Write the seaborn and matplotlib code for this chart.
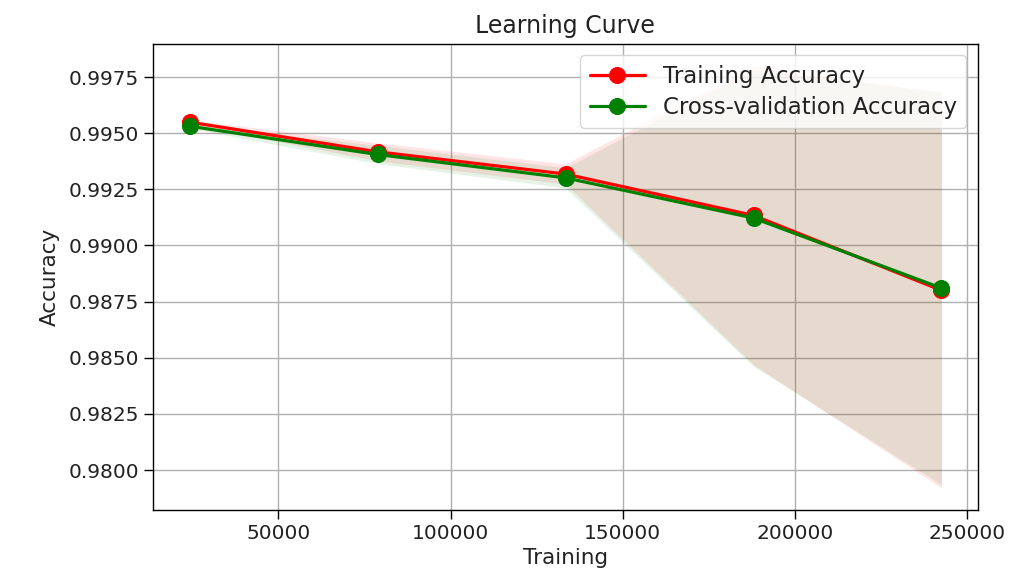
import numpy as np
import pandas as pd
import matplotlib
matplotlib.use("Agg")
import matplotlib.pyplot as plt
import seaborn as sns

train_sizes = [24250, 78812, 133375, 187937, 242500]
train_mean = [0.99549, 0.99417, 0.99318, 0.99134, 0.98800]
train_std = [0.00010, 0.00040, 0.00045, 0.00665, 0.00880]
cv_mean = [0.99531, 0.99405, 0.99301, 0.99122, 0.98810]
cv_std = [0.00010, 0.00040, 0.00045, 0.00660, 0.00875]

sns.set_theme(style="ticks", rc={
    "axes.grid": True,
    "grid.color": "#b0b0b0",
    "grid.linewidth": 1.0,
    "axes.edgecolor": "black",
    "axes.linewidth": 1.0,
    "text.color": "#222222",
    "axes.labelcolor": "#222222",
})
plt.rcParams["font.family"] = ["DejaVu Sans"]

fig = plt.figure(figsize=(10.11, 5.75), dpi=100)
ax = fig.add_axes([0.151, 0.113, 0.816, 0.8105])

tm = np.array(train_mean); ts = np.array(train_std)
cm = np.array(cv_mean); cs = np.array(cv_std)
ax.fill_between(train_sizes, tm - ts, tm + ts, color="red", alpha=0.1, linewidth=0)
ax.fill_between(train_sizes, cm - cs, cm + cs, color="green", alpha=0.1, linewidth=0)

df_train = pd.DataFrame({"size": train_sizes, "acc": train_mean})
df_cv = pd.DataFrame({"size": train_sizes, "acc": cv_mean})
sns.lineplot(data=df_train, x="size", y="acc", ax=ax, color="red", marker="o",
             markersize=11.5, linewidth=2.3, markeredgecolor="red",
             label="Training Accuracy")
sns.lineplot(data=df_cv, x="size", y="acc", ax=ax, color="green", marker="o",
             markersize=11.5, linewidth=2.3, markeredgecolor="green",
             label="Cross-validation Accuracy")

ax.set_xlim(13550, 252990)
ax.set_ylim(0.97822, 0.99897)
ax.set_xticks([50000, 100000, 150000, 200000, 250000])
ax.set_yticks([0.98, 0.9825, 0.985, 0.9875, 0.99, 0.9925, 0.995, 0.9975])
ax.tick_params(labelsize=14.5, length=6.5, width=1, colors="black", labelcolor="#222222")
ax.set_title("Learning Curve", fontsize=17, pad=8)
ax.set_xlabel("Training", fontsize=15.5, labelpad=4)
ax.set_ylabel("Accuracy", fontsize=15.5, labelpad=6)
for s in ax.spines.values():
    s.set_visible(True)
ax.legend(loc="upper right", fontsize=16.5, framealpha=0.8, handlelength=2.4,
          borderaxespad=0.5, labelspacing=0.35)

fig.savefig("out.png", dpi=100)
